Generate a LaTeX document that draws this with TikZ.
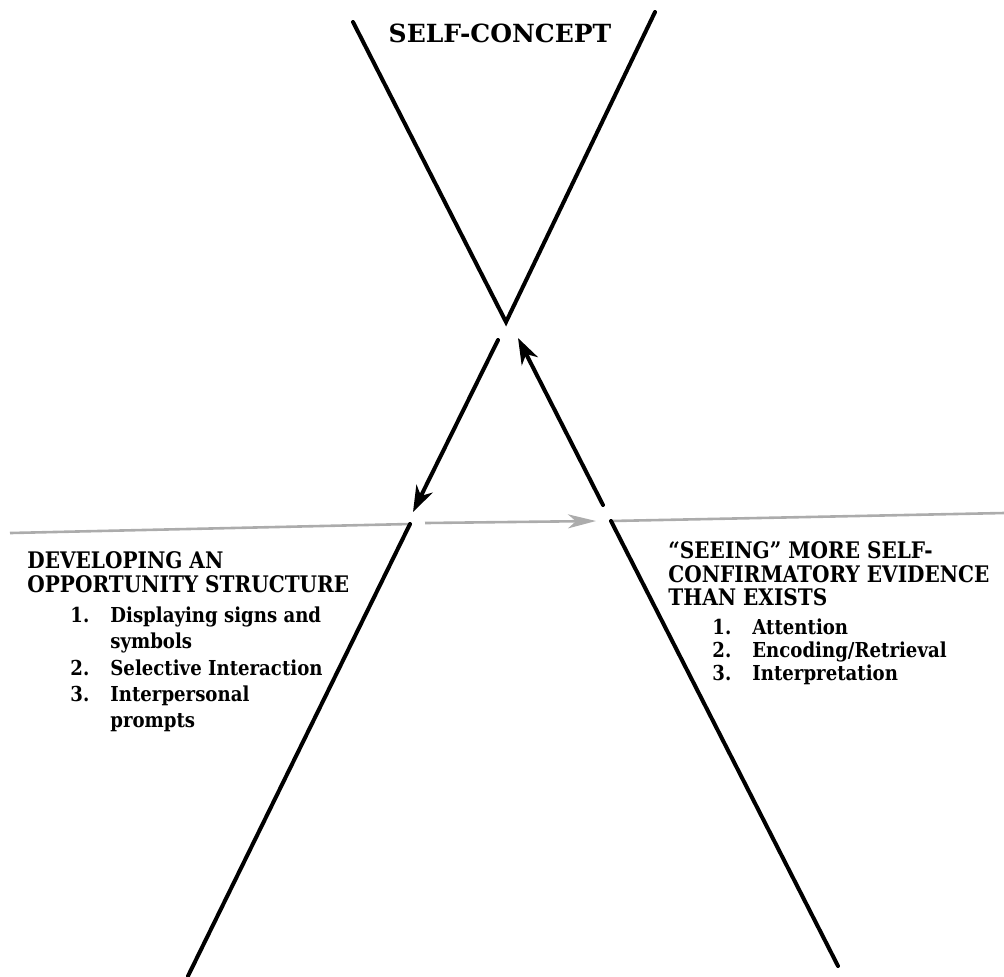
\documentclass[tikz,border=0pt]{standalone}
\usepackage{fontspec}
\setmainfont{DejaVu Serif}
\newfontfamily\narrowfont[FakeStretch=0.88,Ligatures=TeX]{DejaVu Serif}
\usetikzlibrary{arrows.meta}
\tikzset{
  heavy/.style={line width=2pt, line cap=round},
  rule/.style={line width=1.3pt, draw=gray!65},
  tip/.style={-{Stealth[length=13pt,width=9pt,inset=4pt]}},
  title/.style={font=\fontsize{12.5}{15}\selectfont\bfseries, anchor=base, inner sep=0pt},
  head/.style={font=\narrowfont\fontsize{11.4}{13}\selectfont\bfseries, anchor=base west, inner sep=0pt},
  item/.style={font=\narrowfont\fontsize{10.3}{12}\selectfont\bfseries, anchor=base west, inner sep=0pt},
}
\begin{document}
\begin{tikzpicture}[x=0.5pt,y=-0.5pt]
    \useasboundingbox (0,0) rectangle (1004,976);
    % corner points
    \coordinate (vl) at (353,22);
    \coordinate (vr) at (655,12);
    \coordinate (apex) at (506,322);
    \coordinate (dnS) at (498,340);
    \coordinate (dnE) at (413,512);
    \coordinate (upS) at (603,505);
    \coordinate (upE) at (518,338);
    \coordinate (hl) at (10,533);
    \coordinate (cl) at (410,524);
    \coordinate (bl) at (188,976);
    \coordinate (hr) at (1004,513);
    \coordinate (cr) at (611,521);
    \coordinate (br) at (838,966);
    \coordinate (midS) at (425,523);
    \coordinate (midE) at (596,521);
    % the V
    \draw[heavy] (vl) -- (apex) -- (vr);
    \draw[heavy,tip] (dnS) -- (dnE);
    \draw[heavy,tip] (upS) -- (upE);
    % the floor
    \draw[rule] (hl) -- (cl);
    \draw[rule] (cr) -- (hr);
    \draw[rule,-{Stealth[length=14pt,width=7pt,inset=4pt]}] (midS) -- (midE);
    \draw[heavy] (cl) -- (bl);
    \draw[heavy] (cr) -- (br);
    % texts
    \node[title] (self) at (500,42) {SELF-CONCEPT};
    \node[head] (devA) at (27,568) {DEVELOPING AN};
    \node[head] (devB) at (27,592) {OPPORTUNITY STRUCTURE};
    \node[item] (nl1) at (70,622) {1.};
    \node[item] (tl1) at (110,622) {Displaying signs and};
    \node[item] (tl1b) at (110,648) {symbols};
    \node[item] (nl2) at (70,675) {2.};
    \node[item] (tl2) at (110,675) {Selective Interaction};
    \node[item] (nl3) at (70,701) {3.};
    \node[item] (tl3) at (110,701) {Interpersonal};
    \node[item] (tl3b) at (110,727) {prompts};
    \node[head] (seeA) at (668,558) {``SEEING'' MORE SELF-};
    \node[head] (seeB) at (668,582) {CONFIRMATORY EVIDENCE};
    \node[head] (seeC) at (668,605) {THAN EXISTS};
    \node[item] (nr1) at (712,634) {1.};
    \node[item] (tr1) at (752,634) {Attention};
    \node[item] (nr2) at (712,657) {2.};
    \node[item] (tr2) at (752,657) {Encoding/Retrieval};
    \node[item] (nr3) at (712,680) {3.};
    \node[item] (tr3) at (752,680) {Interpretation};
\end{tikzpicture}
\end{document}
